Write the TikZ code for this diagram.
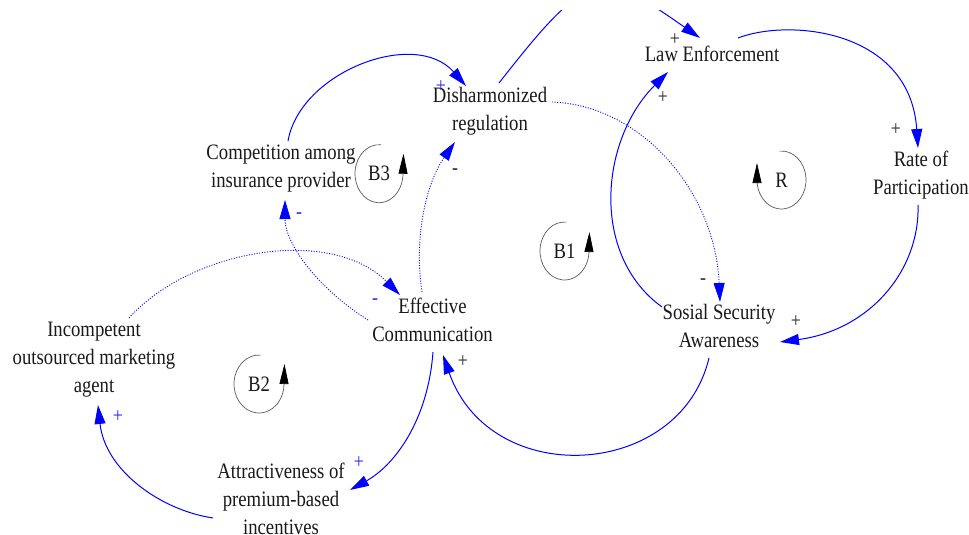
\documentclass[tikz,border=0pt]{standalone}
\usepackage{fontspec}
\setmainfont{Liberation Serif}[FakeStretch=0.85]
\usetikzlibrary{arrows.meta}
\definecolor{pureblue}{RGB}{0,0,255}
\begin{document}
\begin{tikzpicture}[x=1pt,y=1pt,
  lbl/.style={font=\fontsize{22}{28}\selectfont, align=center, inner sep=0pt, text=black!90,
    execute at begin node=\strut, execute at end node=\strut},
  looplbl/.style={font=\fontsize{22}{28}\selectfont, inner sep=0pt, text=black!90},
  sgn/.style={font=\fontsize{21}{24}\selectfont, inner sep=0pt, text=black!85},
  bsgn/.style={sgn, text=pureblue!85},
  poslink/.style={draw=pureblue, line width=1pt, -{Triangle[length=19pt,width=11pt,color=pureblue]}},
  neglink/.style={poslink, line width=0.9pt, dash pattern=on 1pt off 1.6pt},
  loopc/.style={draw=gray!70!black, line width=0.7pt, -{Triangle[length=20pt,width=9pt,color=black]}}]
\useasboundingbox (0,0) rectangle (969,-535);

% variables
\node[lbl] (dis)  at (490,-113.4) {Disharmonized\\regulation};
\node[lbl] (law)  at (712,-56.4) {Law Enforcement};
\node[lbl] (comp) at (281,-170.4) {Competition among\\insurance provider};
\node[lbl] (rate) at (921,-177) {Rate of\\Participation};
\node[lbl] (eff)  at (432.5,-324.4) {Effective\\Communication};
\node[lbl] (ssa)  at (719,-330.4) {Sosial Security\\Awareness};
\node[lbl] (inc)  at (94,-361.9) {Incompetent\\outsourced marketing\\agent};
\node[lbl] (att)  at (281,-503.4) {Attractiveness of\\premium-based\\incentives};

% links
\draw[poslink] ([shift={(7,29.4)}]comp.center) .. controls +(12,69) and +(-51,58) .. ([shift={(-24,27.4)}]dis.center);
\begin{scope}
\clip (0,-11) rectangle (969,-535);
\draw[poslink] ([shift={(9,30.4)}]dis.center) .. controls +(90,115) and +(-100,70) .. ([shift={(-12,18.4)}]law.center);
\end{scope}
\draw[poslink] ([shift={(26,18.4)}]law.center) .. controls +(52,20) and +(-8,118) .. ([shift={(-3,29)}]rate.center);
\draw[poslink] ([shift={(-3,-28)}]rate.center) .. controls +(2,-65) and +(90,12) .. ([shift={(61,-11.6)}]ssa.center);
\draw[poslink] ([shift={(-57,23.4)}]ssa.center) .. controls +(-72,52) and +(-68,-68) .. ([shift={(-44,-15.6)}]law.center);
\draw[neglink] ([shift={(62,11.4)}]dis.center) .. controls +(88,-3) and +(-5,112) .. ([shift={(1,28.4)}]ssa.center);
\draw[poslink] ([shift={(-10,-27.6)}]ssa.center) .. controls +(-29,-122) and +(47,-135) .. ([shift={(10.5,-30.6)}]eff.center);
\draw[poslink] ([shift={(0.5,-27.6)}]eff.center) .. controls +(-5,-68) and +(45,25) .. ([shift={(69,13.4)}]att.center);
\draw[poslink] ([shift={(-68,-14.6)}]att.center) .. controls +(-53,8) and +(7,-65) .. ([shift={(4,-43.1)}]inc.center);
\draw[neglink] ([shift={(35,43.9)}]inc.center) .. controls +(61,68) and +(-70,70) .. ([shift={(-32.5,29.4)}]eff.center);
\draw[neglink] ([shift={(-64.5,4.4)}]eff.center) .. controls +(-48,30) and +(0,-45) .. ([shift={(4,-29.6)}]comp.center);
\draw[neglink] ([shift={(-10.5,32.4)}]eff.center) .. controls +(-8,52) and +(-30,-43) .. ([shift={(-35,-28.6)}]dis.center);

% polarity signs
\node[bsgn] (s1)  at (441,-87)  {+};
\node[sgn]  (s2)  at (675,-40)  {+};
\node[sgn]  (s3)  at (896,-130) {+};
\node[sgn]  (s4)  at (796,-322) {+};
\node[sgn]  (s5)  at (663,-98)  {+};
\node[sgn]  (s6)  at (703,-282) {-};
\node[sgn]  (s7)  at (463,-362) {+};
\node[bsgn] (s8)  at (359,-463) {+};
\node[bsgn] (s9)  at (118,-417) {+};
\node[bsgn] (s10) at (375,-302) {-};
\node[bsgn] (s11) at (299,-216) {-};
\node[sgn]  (s12) at (455,-172) {-};

% loop markers
\node[looplbl] (b3) at (379,-173.7) {B3};
\node[looplbl] (b1) at (564.5,-251) {B1};
\node[looplbl] (r)  at (781.5,-180) {R};
\node[looplbl] (b2) at (259,-384) {B2};
\draw[loopc] ([shift={(85:24 and 29)}]b3.center) arc[start angle=85, end angle=358, x radius=24, y radius=29] -- ++(0.5,21);
\draw[loopc] ([shift={(85:24.5 and 29)}]b1.center) arc[start angle=85, end angle=356, x radius=24.5, y radius=29] -- ++(0.5,21);
\draw[loopc] ([shift={(85:25 and 29)}]b2.center) arc[start angle=85, end angle=358, x radius=25, y radius=29] -- ++(0.5,21);
\draw[loopc] ([shift={(95:24.5 and 29)}]r.center) arc[start angle=95, end angle=-180, x radius=24.5, y radius=29] -- ++(0,17);
\end{tikzpicture}
\end{document}
